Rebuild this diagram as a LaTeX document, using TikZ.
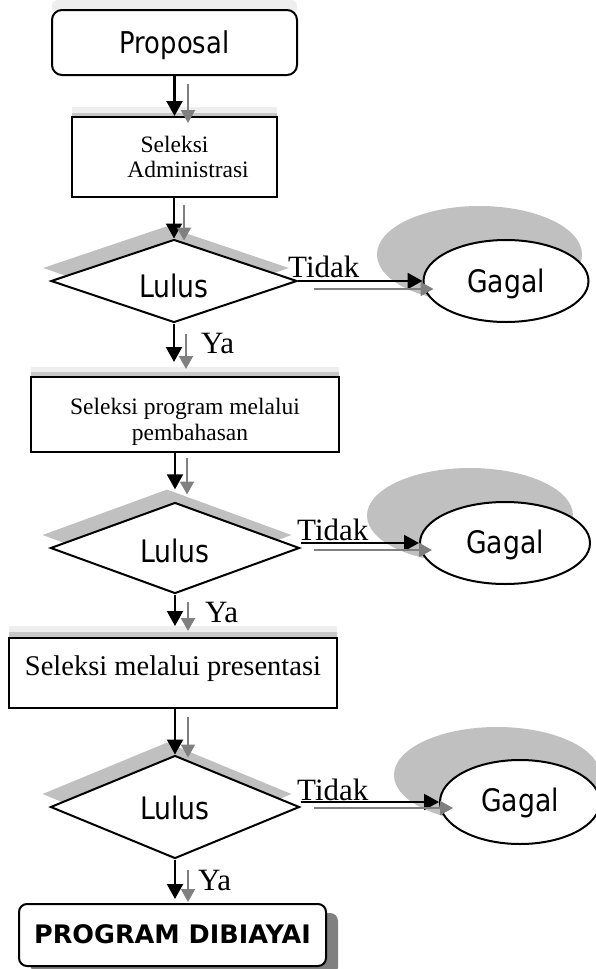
\documentclass[tikz,border=0pt]{standalone}
\usepackage{fontspec}
\setmainfont{Liberation Serif}
\newfontfamily\tah[FakeStretch=0.86]{DejaVu Sans}
\newfontfamily\dvs{DejaVu Sans}
\usetikzlibrary{shapes.geometric,arrows.meta,calc}
\definecolor{shd}{HTML}{C0C0C0}
\definecolor{garr}{HTML}{808080}
\definecolor{bandlt}{HTML}{EEEEEE}
\definecolor{banddk}{HTML}{C8C8C8}
\begin{document}
\begin{tikzpicture}[x=1pt,y=-1pt,
  box/.style={draw=black, line width=2pt, fill=white, inner sep=0pt},
  rbox/.style={box, rounded corners=10pt},
  dia/.style={diamond, draw=black, line width=2pt, fill=white, inner sep=0pt, shape aspect=3},
  dias/.style={diamond, fill=shd, inner sep=0pt, shape aspect=3},
  ell/.style={ellipse, draw=black, line width=2pt, fill=white, inner sep=0pt},
  ells/.style={ellipse, fill=shd, inner sep=0pt},
  sans/.style={font=\tah\fontsize{31}{36}\selectfont},
  serif/.style={font=\fontsize{23.5}{25.5}\selectfont},
  lab/.style={font=\fontsize{31}{36}\selectfont, inner sep=0pt},
  blk/.style={draw=black, line width=2.2pt, -{Triangle[length=15pt,width=16pt]}},
  gry/.style={draw=garr, line width=2.2pt, -{Triangle[length=13pt,width=14pt]}},
]
\clip (0,0) rectangle (596,969);
% ---------- Proposal ----------
\fill[bandlt, rounded corners=6pt] (52,0) rectangle (297,14);
\node[rbox, minimum width=245pt, minimum height=65pt, text height=21pt, text depth=0pt,
      font=\tah\fontsize{30}{36}\selectfont] (p) at (174.5,42.5) {Proposal};
% ---------- Seleksi Administrasi ----------
\fill[bandlt] (72,107) rectangle (277,113);
\fill[banddk] (72,113) rectangle (277,118);
\node[box, minimum width=205pt, minimum height=80pt, align=center, serif] (s1) at (174.5,157)
  {Seleksi\\\hspace*{27pt}Administrasi};
% ---------- Decision 1 ----------
\node[dias, minimum width=246pt, minimum height=83pt] (d1s) at (166,268) {};
\node[dia, minimum width=246pt, minimum height=83pt, text height=32pt, text depth=0pt, sans] (d1) at (174,281) {Lulus};
\node[ells, minimum width=205pt, minimum height=97pt] (g1s) at (479.5,254.5) {};
\node[ell, minimum width=165pt, minimum height=82pt, text height=22pt, text depth=0pt, sans] (g1) at (506,281) {Gagal};
\node[lab, anchor=base west] (t1) at (288,277) {Tidak};
\node[lab, anchor=base west] (y1) at (201,353) {Ya};
% ---------- Seleksi program ----------
\fill[bandlt] (31,367) rectangle (339,372);
\fill[banddk] (31,372) rectangle (339,378);
\node[box, minimum width=308pt, minimum height=75pt, align=center, serif] (s2) at (185,414.5)
  {\rule{0pt}{31pt}Seleksi program melalui\\\hspace*{10pt}pembahasan};
% ---------- Decision 2 ----------
\node[dias, minimum width=249pt, minimum height=91pt] (d2s) at (167,535) {};
\node[dia, minimum width=249pt, minimum height=91pt, text height=28pt, text depth=0pt, sans] (d2) at (175,548) {Lulus};
\node[ells, minimum width=206pt, minimum height=95pt] (g2s) at (470,515.5) {};
\node[ell, minimum width=170pt, minimum height=82pt, text height=20pt, text depth=0pt, sans] (g2) at (505,543) {Gagal};
\node[lab, anchor=base west] (t2) at (297,540) {Tidak};
\node[lab, anchor=base west] (y2) at (205,622) {Ya};
% ---------- Seleksi melalui presentasi ----------
\fill[bandlt] (9,626) rectangle (337,632);
\fill[banddk] (9,632) rectangle (337,639);
\node[box, minimum width=328pt, minimum height=70pt, text height=4pt, text depth=0pt,
      font=\fontsize{28.5}{32}\selectfont] (s3) at (173,673) {Seleksi melalui presentasi};
% ---------- Decision 3 ----------
\node[dias, minimum width=249pt, minimum height=103pt] (d3s) at (167,794) {};
\node[dia, minimum width=249pt, minimum height=103pt, text height=24pt, text depth=0pt, sans] (d3) at (175,807) {Lulus};
\node[ells, minimum width=206pt, minimum height=96pt] (g3s) at (497,775) {};
\node[ell, minimum width=160pt, minimum height=84pt, text height=18pt, text depth=0pt, sans] (g3) at (520,802) {Gagal};
\node[lab, anchor=base west] (t3) at (297,800) {Tidak};
\node[lab, anchor=base west] (y3) at (198,890) {Ya};
% ---------- Program dibiayai ----------
\fill[garr, rounded corners=8pt] (31,913) rectangle (338,975);
\node[box, rounded corners=8pt, minimum width=307pt, minimum height=62pt, text height=17pt, text depth=0pt,
      font=\dvs\bfseries\fontsize{25.5}{29}\selectfont] (pb) at (172.5,935) {PROGRAM DIBIAYAI};
% ---------- connectors ----------
\draw[blk] (p.south) -- (s1.north);
\draw[gry] ($(p.south)+(13.5,8)$) -- ($(s1.north)+(13.5,7)$);
\draw[blk] (s1.south -| d1.north) -- (d1.north);
\draw[gry] ($(s1.south -| d1.north)+(10,7)$) -- ($(d1.north)+(10,2)$);
\draw[blk] (d1.east |- g1.west) -- (g1.west);
\draw[gry] ($(d1.east |- g1.west)+(16,8)$) -- ($(g1.west)+(11,8)$);
\draw[blk, shorten >=14pt] (d1.south) -- (d1.south |- s2.north);
\draw[gry] ($(d1.south)+(12,10)$) -- ($(d1.south |- s2.north)+(12,-7)$);
\draw[blk] (s2.south -| d2.north) -- (d2s.north -| d2.north);
\draw[gry] ($(s2.south -| d2.north)+(12,5)$) -- ($(d2.north)+(12,-7)$);
\draw[blk] (d2.east |- g2.west) -- (g2.west);
\draw[gry] ($(d2.east |- g2.west)+(13,7)$) -- ($(g2.west)+(13,7)$);
\draw[blk, shorten >=11pt] (d2.south) -- (d2.south |- s3.north);
\draw[gry] ($(d2.south)+(13,7)$) -- ($(d2.south |- s3.north)+(13,-6)$);
\draw[blk] (s3.south -| d3.north) -- (d3.north);
\draw[gry] ($(s3.south -| d3.north)+(13,8)$) -- ($(d3.north)+(13,3)$);
\draw[blk] (d3.east |- g3.west) -- (g3.west);
\draw[gry] ($(d3.east |- g3.west)+(13,6)$) -- ($(g3.west)+(14,6)$);
\draw[blk, shorten >=4pt] (d3.south) -- (d3.south |- pb.north);
\draw[gry] ($(d3.south)+(13,10)$) -- ($(d3.south |- pb.north)+(13,-1)$);
\end{tikzpicture}
\end{document}
